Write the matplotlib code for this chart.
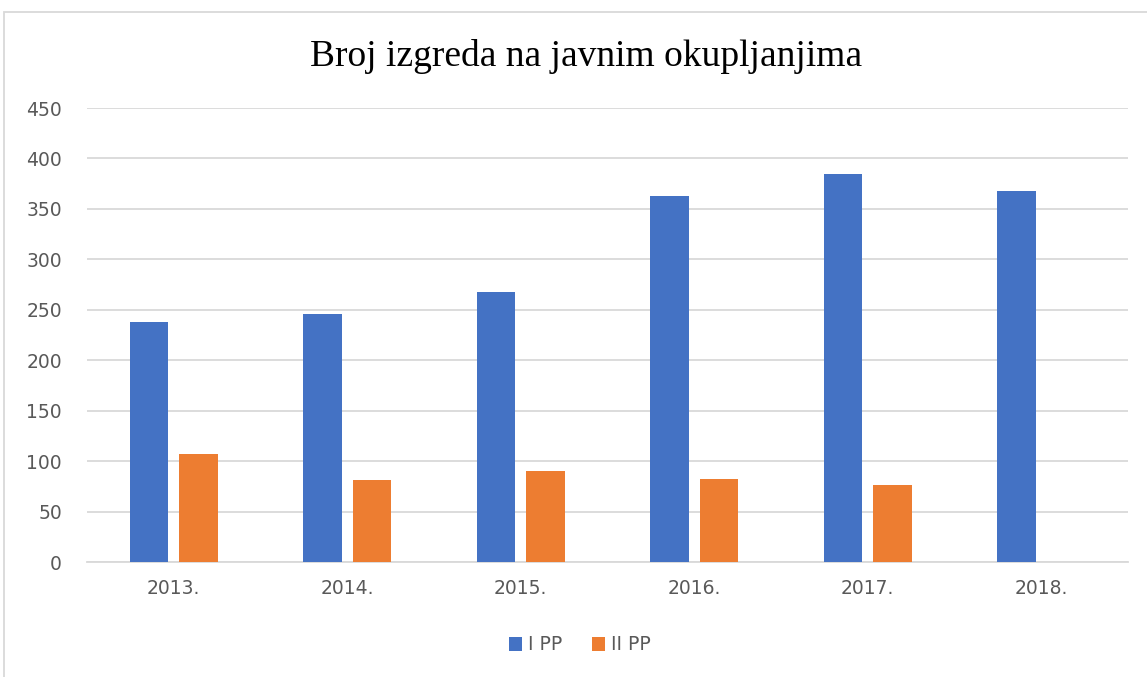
import numpy as np
import matplotlib.pyplot as plt
from matplotlib.patches import Rectangle

years = ['2013.', '2014.', '2015.', '2016.', '2017.', '2018.']
i_pp = [238, 246, 268, 363, 385, 368]
ii_pp = [107, 81, 90, 82, 76, np.nan]

blue = '#4472C4'
orange = '#ED7D31'
grid = '#D9D9D9'
text_gray = '#595959'

fig = plt.figure(figsize=(11.47, 6.77), dpi=100)
W, H = 1147, 677
ax = fig.add_axes([87 / W, 1 - 562 / H, 1041 / W, 454 / H])

x = np.arange(len(years))
bw = 0.224
off = 0.143
ax.bar(x - off, i_pp, bw, color=blue, label='I PP', zorder=3)
ax.bar(x + off, ii_pp, bw, color=orange, label='II PP', zorder=3)

ax.set_xlim(-0.5, len(years) - 0.5)
ax.set_ylim(0, 450)
ax.set_yticks(np.arange(0, 451, 50))
ax.set_xticks(x)
ax.set_xticklabels(years)
ax.grid(axis='y', color=grid, linewidth=1.3, zorder=0)
for s in ['top', 'right', 'left']:
    ax.spines[s].set_visible(False)
ax.spines['bottom'].set_color(grid)
ax.spines['bottom'].set_linewidth(1.3)
ax.tick_params(axis='both', length=0, labelsize=13.5, labelcolor=text_gray)
ax.tick_params(axis='y', pad=18)
ax.tick_params(axis='x', pad=12)

fig.text(586 / W, 1 - 56 / H, 'Broj izgreda na javnim okupljanjima',
         family='Liberation Serif', fontsize=27, ha='center', va='center')

leg = fig.legend(loc='center', bbox_to_anchor=(580 / W, 1 - 645 / H), ncol=2,
                 frameon=False, fontsize=13.5, handlelength=0.7, handleheight=0.7,
                 handletextpad=0.3, columnspacing=1.6)
for t in leg.get_texts():
    t.set_color(text_gray)

# chart border
fig.patches.append(Rectangle((4 / W, -0.01), 1.02, 1 - 12 / H + 0.01,
                             transform=fig.transFigure, fill=False,
                             edgecolor=grid, linewidth=1.3))

fig.savefig('out.png', dpi=100)
